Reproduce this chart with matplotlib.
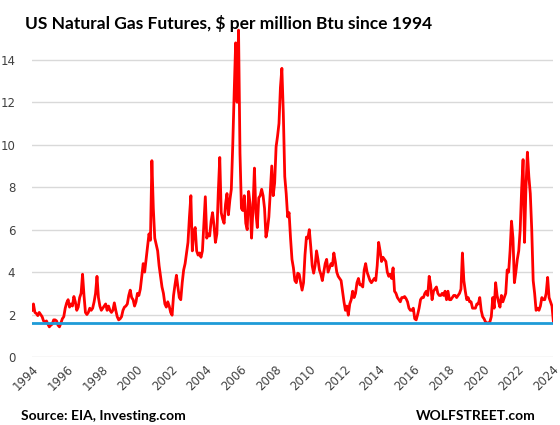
import numpy as np
import matplotlib.pyplot as plt

# Monthly Henry Hub futures, $/MMBtu (Jan..Dec per year)
years = list(range(1994, 2025))
prices = {
    1994: [2.2, 2.5, 2.1, 2.05, 1.95, 2.1, 2.0, 1.9, 1.7, 1.65, 1.7, 1.55],
    1995: [1.42, 1.5, 1.55, 1.75, 1.75, 1.7, 1.5, 1.42, 1.6, 1.8, 1.9, 2.3],
    1996: [2.55, 2.7, 2.35, 2.5, 2.4, 2.85, 2.6, 2.2, 2.35, 2.8, 3.0, 3.9],
    1997: [2.9, 2.1, 2.0, 2.1, 2.3, 2.2, 2.3, 2.6, 3.0, 3.8, 2.8, 2.4],
    1998: [2.2, 2.3, 2.4, 2.5, 2.2, 2.4, 2.2, 2.1, 2.2, 2.55, 2.2, 1.9],
    1999: [1.75, 1.8, 1.9, 2.2, 2.35, 2.4, 2.5, 2.9, 3.15, 2.8, 2.7, 2.4],
    2000: [2.6, 3.0, 2.9, 3.2, 3.8, 4.4, 4.0, 4.6, 5.2, 5.8, 5.5, 9.25],
    2001: [7.0, 5.6, 5.3, 5.0, 4.3, 3.8, 3.3, 3.0, 2.5, 2.35, 2.6, 2.4],
    2002: [2.1, 1.97, 2.9, 3.4, 3.85, 3.3, 2.8, 2.7, 3.5, 4.1, 4.4, 4.9],
    2003: [5.4, 6.6, 7.6, 5.0, 5.9, 6.1, 5.0, 4.8, 4.9, 4.7, 5.0, 6.3],
    2004: [7.55, 5.6, 5.8, 5.7, 6.4, 6.8, 6.2, 5.4, 5.8, 7.8, 9.4, 6.8],
    2005: [6.5, 6.3, 7.2, 7.7, 6.7, 7.4, 7.9, 10.0, 12.5, 14.8, 12.0, 15.4],
    2006: [9.6, 7.0, 6.9, 7.6, 6.3, 6.0, 7.8, 7.2, 5.6, 7.0, 8.9, 6.8],
    2007: [6.1, 7.5, 7.6, 7.9, 7.6, 7.0, 5.65, 6.0, 6.6, 7.8, 9.0, 7.6],
    2008: [8.2, 9.9, 10.4, 11.0, 12.7, 13.6, 11.5, 8.5, 7.7, 6.6, 6.8, 5.6],
    2009: [4.6, 4.2, 3.6, 3.5, 3.95, 3.9, 3.5, 3.15, 3.5, 4.8, 5.65, 5.6],
    2010: [6.0, 5.2, 4.3, 3.95, 4.3, 5.0, 4.6, 4.1, 3.9, 3.6, 4.0, 4.4],
    2011: [4.6, 4.0, 4.2, 4.4, 4.3, 4.9, 4.5, 4.0, 3.8, 3.7, 3.6, 3.1],
    2012: [2.6, 2.2, 2.4, 1.97, 2.5, 2.7, 3.1, 2.8, 3.0, 3.5, 3.7, 3.4],
    2013: [3.4, 3.3, 4.1, 4.4, 4.0, 3.8, 3.6, 3.5, 3.6, 3.7, 3.6, 4.3],
    2014: [5.4, 5.0, 4.5, 4.7, 4.6, 4.5, 4.0, 3.8, 3.9, 3.7, 4.2, 3.1],
    2015: [3.0, 2.8, 2.7, 2.6, 2.8, 2.8, 2.85, 2.75, 2.6, 2.3, 2.2, 2.2],
    2016: [2.3, 1.8, 1.75, 2.0, 2.3, 2.7, 2.8, 2.8, 3.0, 3.1, 2.9, 3.8],
    2017: [3.4, 2.7, 3.1, 3.2, 3.3, 3.0, 2.9, 2.9, 3.0, 2.9, 3.1, 2.7],
    2018: [3.1, 2.7, 2.7, 2.8, 2.9, 2.9, 2.8, 2.9, 3.0, 3.2, 4.9, 3.6],
    2019: [3.1, 2.7, 2.8, 2.6, 2.6, 2.3, 2.3, 2.3, 2.5, 2.5, 2.8, 2.2],
    2020: [1.9, 1.8, 1.65, 1.6, 1.6, 1.65, 1.9, 2.8, 2.3, 3.5, 2.9, 2.6],
    2021: [2.35, 2.9, 2.6, 2.8, 3.0, 4.1, 4.0, 5.0, 6.4, 5.6, 3.5, 4.0],
    2022: [4.6, 5.0, 6.0, 7.9, 9.3, 5.4, 8.0, 9.65, 8.5, 7.7, 6.0, 3.6],
    2023: [3.0, 2.2, 2.3, 2.2, 2.4, 2.8, 2.7, 2.7, 3.0, 3.75, 2.8, 2.6],
    2024: [2.4, 1.65],
}
current_low = 1.58
xtick_years = list(range(1994, 2025, 2))

t = []
v = []
for yr in years:
    for i, p in enumerate(prices[yr]):
        t.append(yr + i / 12)
        v.append(p)

fig = plt.figure(figsize=(5.6, 4.25), dpi=100)
ax = fig.add_axes([32 / 560, 1 - 357 / 425, 521 / 560, 329 / 425])

ax.plot(t, v, color='#FF0000', lw=2, zorder=3)
ax.axhline(current_low, color='#1E9BD7', lw=2, zorder=4)

ax.set_xlim(1994, 2024.06)
ax.set_ylim(0, 15.5)
ax.set_yticks(range(0, 15, 2))
ax.set_xticks(xtick_years)
ax.set_xticklabels([str(y) for y in xtick_years], rotation=45, ha='right',
                   rotation_mode='anchor')
ax.yaxis.grid(True, color='#D9D9D9', lw=1)
ax.set_axisbelow(True)
for s in ax.spines.values():
    s.set_visible(False)
ax.tick_params(length=0, labelsize=8.5, colors='#404040')
ax.tick_params(axis='x', pad=4)
ax.tick_params(axis='y', pad=12)

fig.text(0.045, 0.965, 'US Natural Gas Futures, $ per million Btu since 1994',
         fontsize=12.5, fontweight='bold', family='Lato', va='top')
fig.text(0.037, 0.022, 'Source: EIA, Investing.com', fontsize=10,
         fontweight='bold', family='Lato', va='center')
fig.text(0.957, 0.022, 'WOLFSTREET.com', fontsize=10, fontweight='bold',
         family='Lato', ha='right', va='center')

fig.savefig('out.png', dpi=100)
